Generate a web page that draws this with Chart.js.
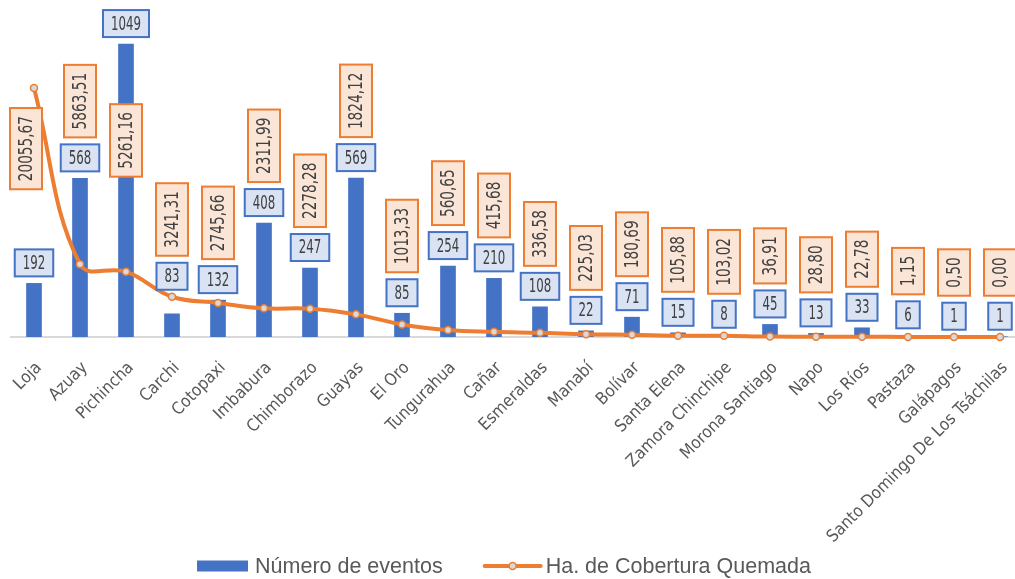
<!DOCTYPE html>
<html>
<head>
<meta charset="utf-8">
<script src="https://cdn.jsdelivr.net/npm/chart.js@4"></script>
<style>
  html, body { margin: 0; padding: 0; overflow: hidden; background: #fff; }
  #wrap { width: 1035px; height: 579px; }
</style>
</head>
<body>
<div id="wrap"><canvas id="chart"></canvas></div>
<script>
const provincias = ["Loja", "Azuay", "Pichincha", "Carchi", "Cotopaxi", "Imbabura", "Chimborazo", "Guayas",
  "El Oro", "Tungurahua", "Cañar", "Esmeraldas", "Manabí", "Bolívar", "Santa Elena", "Zamora Chinchipe",
  "Morona Santiago", "Napo", "Los Ríos", "Pastaza", "Galápagos", "Santo Domingo De Los Tsáchilas"];
const eventos = [192, 568, 1049, 83, 132, 408, 247, 569, 85, 254, 210, 108, 22, 71, 15, 8, 45, 13, 33, 6, 1, 1];
const hectareas = [20055.67, 5863.51, 5261.16, 3241.31, 2745.66, 2311.99, 2278.28, 1824.12, 1013.33, 560.65,
  415.68, 336.58, 225.03, 180.69, 105.88, 103.02, 36.91, 28.80, 22.78, 1.15, 0.50, 0.00];
const nombreEventos = "Número de eventos";
const nombreHectareas = "Ha. de Cobertura Quemada";

const AZUL = "#4472C4", NARANJA = "#ED7D31";
const narrow = "'Liberation Sans Narrow', 'DejaVu Sans Condensed', sans-serif";
const fmt = v => v.toFixed(2).replace(".", ",");

function caja(ctx, x, y, w, h, fondo, borde) {
  ctx.fillStyle = fondo;
  ctx.fillRect(x, y, w, h);
  ctx.strokeStyle = borde;
  ctx.lineWidth = 2;
  ctx.strokeRect(x, y, w, h);
}

function texto(ctx, t, x, y, sx, rot) {
  ctx.save();
  ctx.translate(x, y);
  if (rot) ctx.rotate(-Math.PI / 2);
  ctx.scale(sx, 1);
  ctx.fillStyle = "#404040";
  ctx.textAlign = "center";
  ctx.textBaseline = "middle";
  ctx.fillText(t, 0, 1);
  ctx.restore();
}

// etiquetas en cajas, como en Excel
const etiquetas = {
  id: "etiquetas",
  afterDatasetsDraw(chart) {
    const ctx = chart.ctx;
    const barras = chart.getDatasetMeta(0).data;
    const puntos = chart.getDatasetMeta(1).data;
    barras.forEach((bar, i) => {
      const pt = puntos[i];
      ctx.font = "19px " + narrow;
      const t = String(eventos[i]);
      const w = ctx.measureText(t).width * 0.69 + 16, h = 27;
      let ancla = bar.y;
      if (pt.y < bar.y && bar.y - pt.y < 40) ancla = pt.y;
      const by = ancla - 7 - h;
      caja(ctx, bar.x - w / 2, by, w, h, "#DAE3F3", AZUL);
      texto(ctx, t, bar.x, by + h / 2, 0.69, false);

      ctx.font = "20px " + narrow;
      const s = fmt(hectareas[i]);
      const len = ctx.measureText(s).width * 0.76 + 16, anc = 32;
      let cx = pt.x, abajo = by - 7, arriba = abajo - len;
      if (pt.y < by - len) {
        arriba = pt.y + 20;
        cx = pt.x - 8;
      } else if (arriba < chart.chartArea.top - 10) {
        abajo = pt.y - 95;
        arriba = abajo - len;
      }
      caja(ctx, cx - anc / 2, arriba, anc, len, "#FBE5D6", NARANJA);
      texto(ctx, s, cx, arriba + len / 2, 0.76, true);
    });
  },
  afterDraw(chart) {
    const ctx = chart.ctx;
    ctx.save();
    ctx.font = "21.5px 'Liberation Sans', Arial, sans-serif";
    ctx.textBaseline = "middle";
    ctx.textAlign = "left";
    const w1 = ctx.measureText(nombreEventos).width;
    const w2 = ctx.measureText(nombreHectareas).width;
    const total = 51 + 7 + w1 + 42 + 56 + 5 + w2;
    let x = 504 - total / 2;
    const y = 566;
    ctx.fillStyle = AZUL;
    ctx.fillRect(x, y - 5.5, 51, 11);
    x += 58;
    ctx.fillStyle = "#595959";
    ctx.fillText(nombreEventos, x, y + 1);
    x += w1 + 42;
    ctx.strokeStyle = NARANJA;
    ctx.lineWidth = 4;
    ctx.lineCap = "round";
    ctx.beginPath();
    ctx.moveTo(x, y);
    ctx.lineTo(x + 56, y);
    ctx.stroke();
    ctx.beginPath();
    ctx.arc(x + 28, y, 3.5, 0, Math.PI * 2);
    ctx.fillStyle = "#D9D9D9";
    ctx.fill();
    ctx.lineWidth = 1.5;
    ctx.stroke();
    x += 61;
    ctx.fillStyle = "#595959";
    ctx.fillText(nombreHectareas, x, y + 1);
    ctx.restore();
  }
};

new Chart(document.getElementById("chart"), {
  data: {
    labels: provincias,
    datasets: [
      {
        type: "bar",
        label: nombreEventos,
        data: eventos,
        backgroundColor: AZUL,
        barThickness: 15,
        yAxisID: "y",
        order: 2
      },
      {
        type: "line",
        label: nombreHectareas,
        data: hectareas,
        borderColor: NARANJA,
        borderWidth: 4,
        tension: 0.4,
        pointRadius: 3.5,
        pointBackgroundColor: "#D9D9D9",
        pointBorderColor: NARANJA,
        pointBorderWidth: 1.5,
        clip: false,
        yAxisID: "y1",
        order: 1
      }
    ]
  },
  options: {
    responsive: true,
    maintainAspectRatio: false,
    animation: false,
    devicePixelRatio: 1,
    layout: { padding: { left: 11, right: 12, top: 10, bottom: 0 } },
    plugins: { legend: { display: false }, tooltip: { enabled: false } },
    scales: {
      x: {
        grid: { display: false, drawTicks: false },
        border: { display: true, color: "#D9D9D9", width: 2 },
        ticks: {
          color: "#595959",
          font: { family: narrow, size: 17 },
          maxRotation: 45,
          minRotation: 45,
          autoSkip: false,
          padding: 21,
          labelOffset: 5
        },
        afterFit(scale) {
          scale.paddingLeft = 0;
          scale.paddingRight = 0;
          scale.height = 242;
        }
      },
      y: { display: false, min: 0, max: 1171 },
      y1: { display: false, min: 0, max: 26340 }
    }
  },
  plugins: [etiquetas]
});
</script>
</body>
</html>
